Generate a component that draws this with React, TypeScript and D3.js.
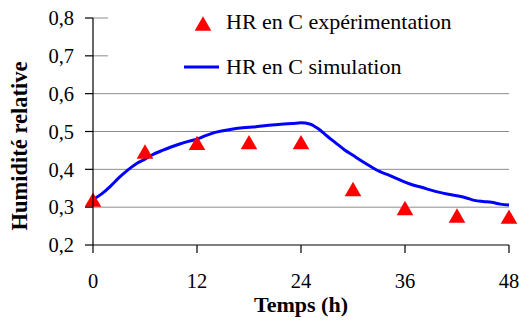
import React from 'react';
import * as d3 from 'd3';

// experimental points (every 6 h)
const EXP_HOURS = [0, 6, 12, 18, 24, 30, 36, 42, 48];
const EXP_HR = [0.32, 0.447, 0.47, 0.472, 0.472, 0.348, 0.298, 0.278, 0.275];

// simulated curve, hourly from 0 to 48 h
const SIM_HR = [
  0.32, 0.335, 0.355, 0.378, 0.398, 0.415, 0.427, 0.44, 0.45, 0.459,
  0.467, 0.474, 0.48, 0.489, 0.497, 0.502, 0.506, 0.509, 0.511, 0.513,
  0.516, 0.518, 0.52, 0.521, 0.523, 0.52, 0.507, 0.488, 0.47, 0.452,
  0.437, 0.422, 0.408, 0.395, 0.386, 0.376, 0.366, 0.358, 0.352, 0.345,
  0.339, 0.334, 0.33, 0.325, 0.318, 0.315, 0.313, 0.308, 0.306,
];

const X_TICKS = [0, 12, 24, 36, 48];
const Y_TICKS = [0.2, 0.3, 0.4, 0.5, 0.6, 0.7, 0.8];
const LEGEND = ['HR en C expérimentation', 'HR en C simulation'];

const SERIF = { fontFamily: "'Liberation Serif', 'Times New Roman', serif" };
const W = 519;
const H = 336;

export default function App() {
  const x = d3.scaleLinear().domain([0, 48]).range([93, 509]);
  const y = d3.scaleLinear().domain([0.2, 0.8]).range([245, 18]);
  const fmt = (v: number) => v.toFixed(1).replace('.', ',');

  const line = d3
    .line<number>()
    .x((_, i) => x(i))
    .y((d) => y(d))
    .curve(d3.curveMonotoneX);

  const triSize = 120;
  const tri = d3.symbol(d3.symbolTriangle, triSize)() as string;
  const triH = Math.sqrt((triSize * 4) / Math.sqrt(3)) * (Math.sqrt(3) / 2);
  const triShift = triH / 6;

  return (
    <svg
      width={W}
      height={H}
      viewBox={`0 0 ${W} ${H}`}
      style={{ position: 'absolute', left: 0, top: 0, background: '#fff' }}
    >
      {/* gridlines */}
      {Y_TICKS.filter((t) => t > 0.2).map((t) => (
        <line key={`g${t}`} x1={x(0)} x2={x(48)} y1={y(t)} y2={y(t)} stroke="#8c8c8c" strokeWidth={1} />
      ))}
      {/* legend box covers the upper gridlines */}
      <rect x={108} y={4} width={410} height={78} fill="#fff" />

      {/* simulation */}
      <path d={line(SIM_HR) ?? ''} fill="none" stroke="#0000ff" strokeWidth={3} />

      {/* experiment */}
      {EXP_HOURS.map((h, i) => (
        <path key={`p${h}`} d={tri} fill="#ff0000" transform={`translate(${x(h)},${y(EXP_HR[i]) + triShift})`} />
      ))}

      {/* axes */}
      <line x1={x(0)} x2={x(0)} y1={y(0.8)} y2={y(0.2)} stroke="#000" strokeWidth={1.2} />
      <line x1={x(0)} x2={x(48)} y1={y(0.2)} y2={y(0.2)} stroke="#000" strokeWidth={1.2} />
      {Y_TICKS.map((t) => (
        <g key={`y${t}`}>
          <line x1={x(0) - 8} x2={x(0)} y1={y(t)} y2={y(t)} stroke="#000" strokeWidth={1.2} />
          <text x={74} y={y(t)} dy="0.35em" textAnchor="end" fontSize={20.5} style={SERIF}>
            {fmt(t)}
          </text>
        </g>
      ))}
      {X_TICKS.map((t) => (
        <g key={`x${t}`}>
          <line x1={x(t)} x2={x(t)} y1={y(0.2)} y2={y(0.2) + 8} stroke="#000" strokeWidth={1.2} />
          <text x={x(t)} y={288} textAnchor="middle" fontSize={20.5} style={SERIF}>
            {t}
          </text>
        </g>
      ))}

      {/* axis titles */}
      <text x={301} y={312} textAnchor="middle" fontSize={22} fontWeight="bold" style={SERIF}>
        Temps (h)
      </text>
      <text
        transform="translate(27,146) rotate(-90)"
        textAnchor="middle"
        fontSize={22.5}
        fontWeight="bold"
        style={SERIF}
      >
        Humidité relative
      </text>

      {/* legend */}
      <path d={tri} fill="#ff0000" transform={`translate(203,${23.5 + triShift})`} />
      <text x={226} y={29} fontSize={22} style={SERIF}>
        {LEGEND[0]}
      </text>
      <line x1={184} x2={219} y1={67} y2={67} stroke="#0000ff" strokeWidth={3} />
      <text x={226} y={74} fontSize={22} style={SERIF}>
        {LEGEND[1]}
      </text>
    </svg>
  );
}
